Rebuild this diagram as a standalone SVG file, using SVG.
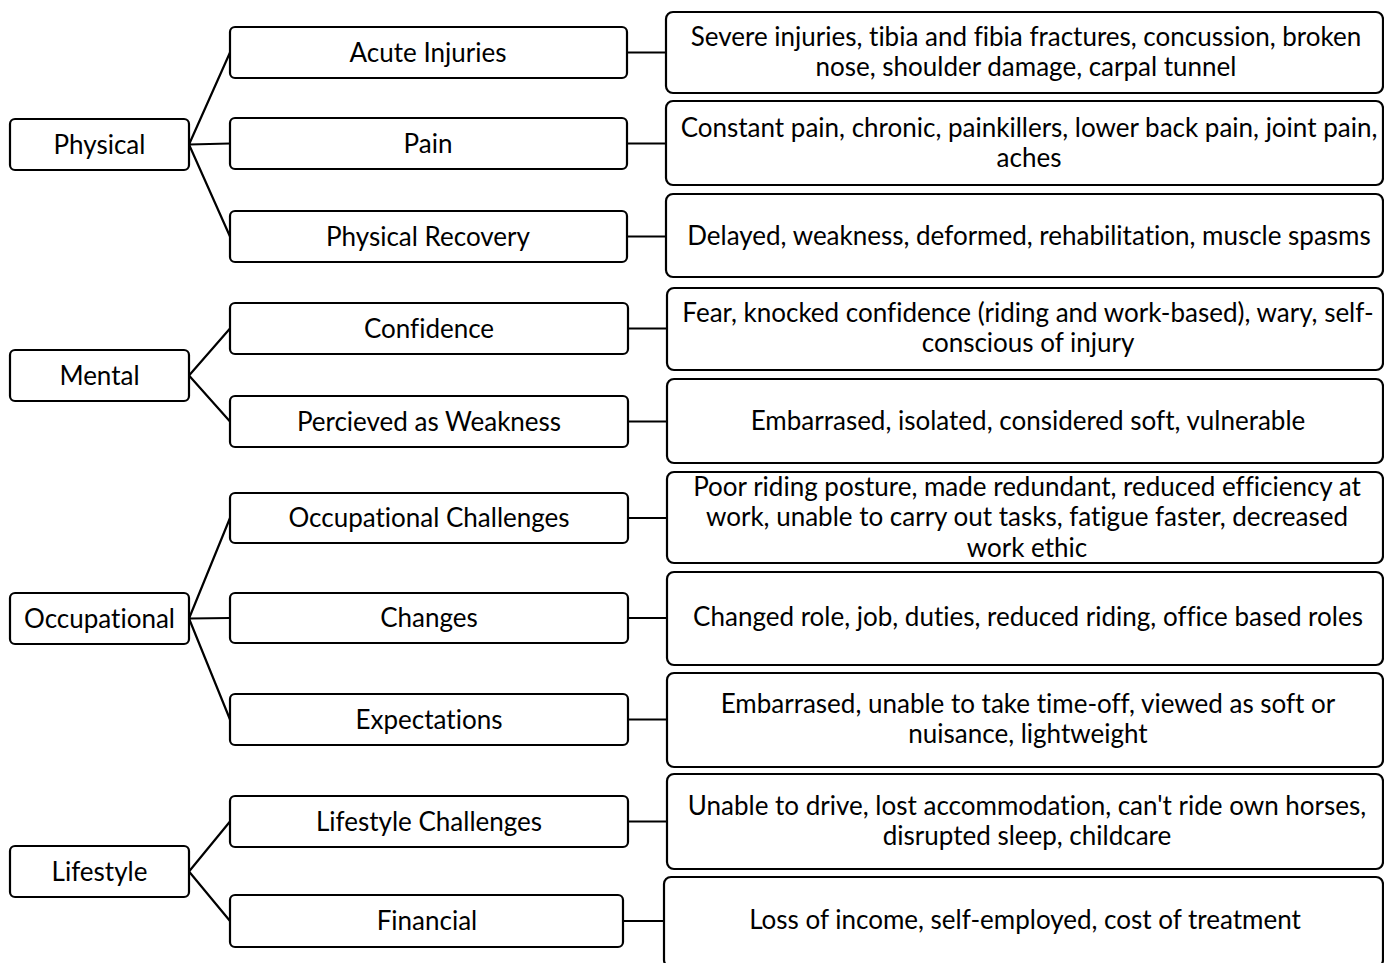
<svg xmlns="http://www.w3.org/2000/svg" width="1384" height="963" viewBox="0 0 1384 963">
<style>
.b{fill:#fff;stroke:#000;stroke-width:2.2}
.t{font-family:Lato,"Liberation Sans",sans-serif;font-size:26px;fill:#000;text-anchor:middle;font-variant-ligatures:none}
.c{stroke:#000;stroke-width:2.2;fill:none}
</style>
<rect width="1384" height="963" fill="#fff"/>
<g id="connectors">
<path class="c" d="M189 144.5L230 52.5M189 144.5L230 143.5M189 144.5L230 236.5"/>
<path class="c" d="M189 375.5L230 328.5M189 375.5L230 421.5"/>
<path class="c" d="M189 618.5L230 518M189 618.5L230 618M189 618.5L230 719.5"/>
<path class="c" d="M189 871.5L230 821.5M189 871.5L230 921"/>
<path class="c" d="M627 52.5H666M627 143.5H666M627 236.5H666M628 328.5H667M628 421.5H667M628 518H667M628 618H667M628 719.5H667M628 821.5H667M623 921H664"/>
</g>
<g id="physical"><rect class="b" x="10" y="119" width="179" height="51" rx="5"/><text class="t" x="99.5" y="153.5">Physical</text></g>
<g id="mental"><rect class="b" x="10" y="350" width="179" height="51" rx="5"/><text class="t" x="99.5" y="384.5">Mental</text></g>
<g id="occupational"><rect class="b" x="10" y="593" width="179" height="51" rx="5"/><text class="t" x="99.5" y="627.5">Occupational</text></g>
<g id="lifestyle"><rect class="b" x="10" y="846" width="179" height="51" rx="5"/><text class="t" x="99.5" y="880.5">Lifestyle</text></g>

<g id="acute"><rect class="b" x="230" y="27" width="397" height="51" rx="5"/><text class="t" x="428" y="61.5">Acute Injuries</text></g>
<g id="pain"><rect class="b" x="230" y="118" width="397" height="51" rx="5"/><text class="t" x="428" y="152.5">Pain</text></g>
<g id="recovery"><rect class="b" x="230" y="211" width="397" height="51" rx="5"/><text class="t" x="428" y="245.5">Physical Recovery</text></g>
<g id="confidence"><rect class="b" x="230" y="303" width="398" height="51" rx="5"/><text class="t" x="429" y="337.5">Confidence</text></g>
<g id="weakness"><rect class="b" x="230" y="396" width="398" height="51" rx="5"/><text class="t" x="429" y="430.5">Percieved as Weakness</text></g>
<g id="occchallenges"><rect class="b" x="230" y="493" width="398" height="50" rx="5"/><text class="t" x="429" y="526.5">Occupational Challenges</text></g>
<g id="changes"><rect class="b" x="230" y="593" width="398" height="50" rx="5"/><text class="t" x="429" y="626.5">Changes</text></g>
<g id="expectations"><rect class="b" x="230" y="694" width="398" height="51" rx="5"/><text class="t" x="429" y="728.5">Expectations</text></g>
<g id="lifechallenges"><rect class="b" x="230" y="796" width="398" height="51" rx="5"/><text class="t" x="429" y="830.5">Lifestyle Challenges</text></g>
<g id="financial"><rect class="b" x="230" y="895" width="393" height="52" rx="5"/><text class="t" x="427" y="929.5">Financial</text></g>

<g id="acute-d"><rect class="b" x="666" y="12" width="717" height="81" rx="7"/><text class="t" x="1026" y="46">Severe injuries, tibia and fibia fractures, concussion, broken</text><text class="t" x="1026" y="76">nose, shoulder damage, carpal tunnel</text></g>
<g id="pain-d"><rect class="b" x="666" y="101" width="717" height="84" rx="7"/><text class="t" x="1029" y="137">Constant pain, chronic, painkillers, lower back pain, joint pain,</text><text class="t" x="1029" y="167">aches</text></g>
<g id="recovery-d"><rect class="b" x="666" y="194" width="717" height="83" rx="7"/><text class="t" x="1029" y="245">Delayed, weakness, deformed, rehabilitation, muscle spasms</text></g>
<g id="confidence-d"><rect class="b" x="667" y="288" width="716" height="82" rx="7"/><text class="t" x="1028" y="322">Fear, knocked confidence (riding and work-based), wary, self-</text><text class="t" x="1028" y="352">conscious of injury</text></g>
<g id="weakness-d"><rect class="b" x="667" y="379" width="716" height="84" rx="7"/><text class="t" x="1028" y="430">Embarrased, isolated, considered soft, vulnerable</text></g>
<g id="occchallenges-d"><rect class="b" x="667" y="472" width="716" height="91" rx="7"/><text class="t" x="1027" y="496">Poor riding posture, made redundant, reduced efficiency at</text><text class="t" x="1027" y="526">work, unable to carry out tasks, fatigue faster, decreased</text><text class="t" x="1027" y="557">work ethic</text></g>
<g id="changes-d"><rect class="b" x="667" y="572" width="716" height="93" rx="7"/><text class="t" x="1028" y="626">Changed role, job, duties, reduced riding, office based roles</text></g>
<g id="expectations-d"><rect class="b" x="667" y="673" width="716" height="94" rx="7"/><text class="t" x="1028" y="713">Embarrased, unable to take time-off, viewed as soft or</text><text class="t" x="1028" y="743">nuisance, lightweight</text></g>
<g id="lifechallenges-d"><rect class="b" x="667" y="774" width="716" height="95" rx="7"/><text class="t" x="1027" y="815">Unable to drive, lost accommodation, can't ride own horses,</text><text class="t" x="1027" y="845">disrupted sleep, childcare</text></g>
<g id="financial-d"><rect class="b" x="664" y="877" width="719" height="90" rx="7"/><text class="t" x="1025" y="929">Loss of income, self-employed, cost of treatment</text></g>
</svg>
